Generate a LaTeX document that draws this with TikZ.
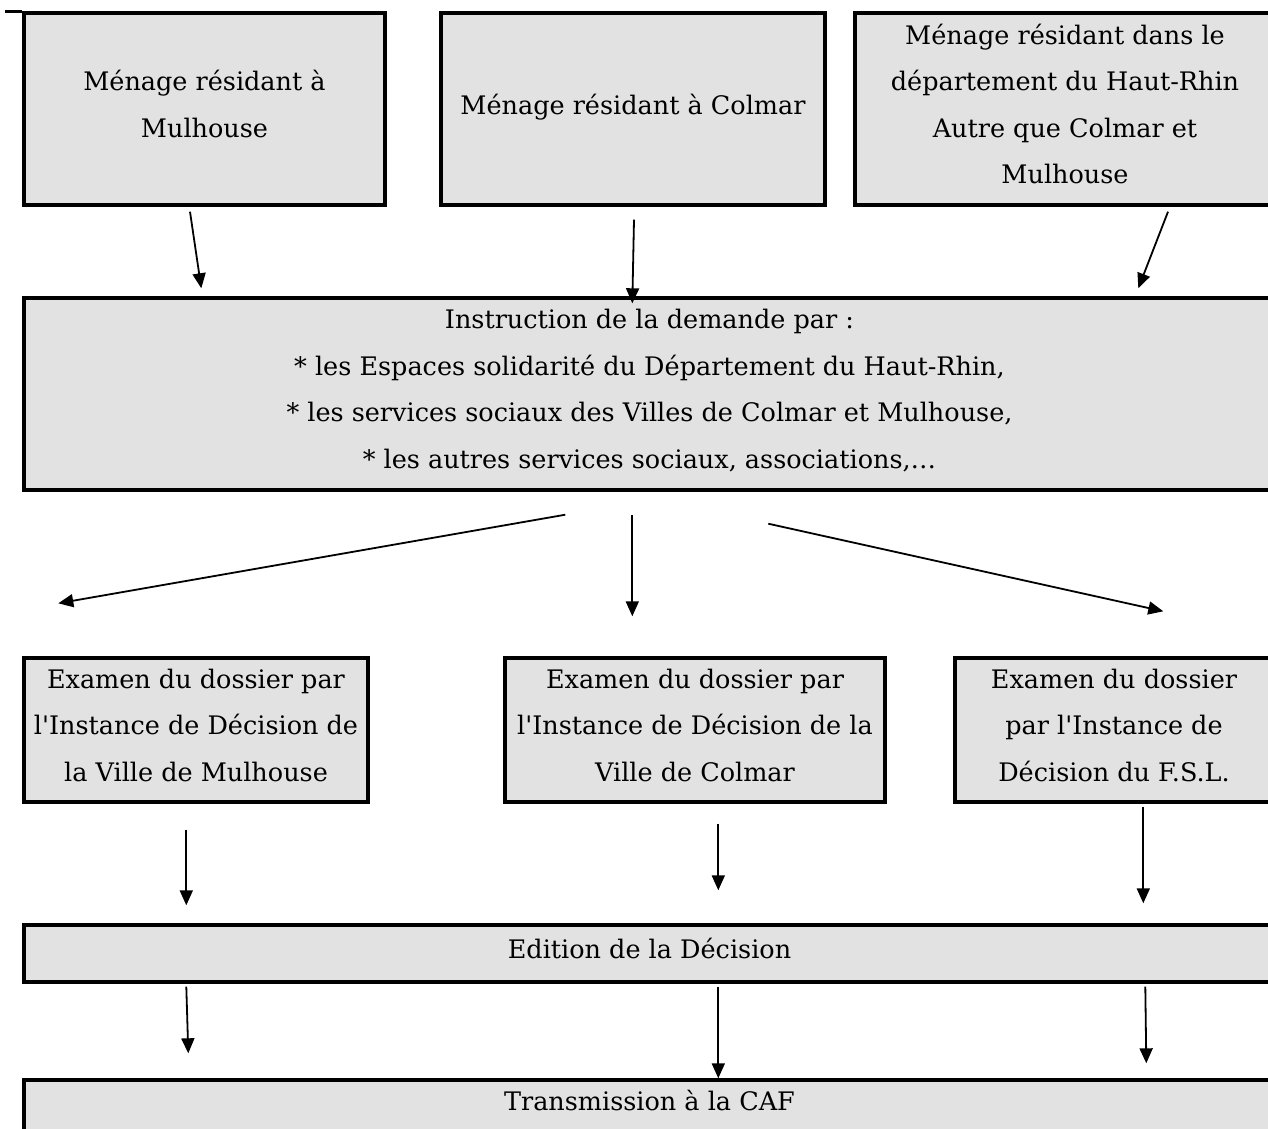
\documentclass[tikz,border=0pt]{standalone}
\usepackage{fontspec}
\setmainfont{DejaVu Serif}[Ligatures=TeXOff]
\usetikzlibrary{arrows.meta,calc}
\definecolor{boxfill}{RGB}{226,226,226}
\begin{document}
\begin{tikzpicture}[x=1pt,y=-1pt,
  box/.style={draw=black,line width=3.4pt,fill=boxfill,rectangle,inner sep=0pt,
    align=center,text depth=10pt,font=\fontsize{25.5pt}{46.5pt}\selectfont},
  arr/.style={line width=1.8pt,-{Triangle[length=15pt,width=13pt]}}]
\useasboundingbox (0,0) rectangle (1268,1128);
\clip (0,0) rectangle (1268,1128);
\fill[white] (0,0) rectangle (1268,1128);
% top row
\node[box,minimum width=361pt,minimum height=192pt] (A) at (204.5,109) {Ménage résidant à\\Mulhouse};
\node[box,minimum width=384pt,minimum height=192pt] (B) at (633,109) {Ménage résidant à Colmar};
\node[box,minimum width=420pt,minimum height=192pt] (C) at (1065,109) {Ménage résidant dans le\\département du Haut-Rhin\\Autre que Colmar et\\Mulhouse};
\draw[line width=3.4pt] (A.north west) -- ++(-17,0);
% instruction
\node[box,minimum width=1251pt,minimum height=192pt] (D) at (649.5,394) {Instruction de la demande par :\\* les Espaces solidarité du Département du Haut-Rhin,\\* les services sociaux des Villes de Colmar et Mulhouse,\\* les autres services sociaux, associations,…};
% examen row
\node[box,minimum width=344pt,minimum height=144pt] (E) at (196,730) {Examen du dossier par\\l'Instance de Décision de\\la Ville de Mulhouse};
\node[box,minimum width=380pt,minimum height=144pt] (F) at (695,730) {Examen du dossier par\\l'Instance de Décision de la\\Ville de Colmar};
\node[box,minimum width=318pt,minimum height=144pt] (G) at (1114,730) {Examen du dossier\\par l'Instance de\\Décision du F.S.L.};
% edition
\node[box,minimum width=1251pt,minimum height=57pt] (H) at (649.5,953.5) {Edition de la Décision};
% transmission
\node[box,minimum width=1251pt,minimum height=100pt] (I) at (649.5,1130) {};
\node[font=\fontsize{25.5pt}{46.5pt}\selectfont] (It) at (649.5,1100) {Transmission à la CAF};
% arrows top -> D
\draw[arr] ([xshift=-14.5pt,yshift=-5pt]A.south) -- ([xshift=179pt,yshift=8pt]D.north west);
\draw[arr] ([xshift=1pt,yshift=-13pt]B.south) -- ([xshift=610pt,yshift=-7pt]D.north west);
\draw[arr] ([xshift=103pt,yshift=-5pt]C.south) -- ([xshift=1116pt,yshift=8pt]D.north west);
% D -> examen
\draw[arr] ([xshift=543pt,yshift=-23pt]D.south west) -- ([xshift=36pt,yshift=53pt]E.north west);
\draw[arr] ([xshift=610pt,yshift=-23pt]D.south west) -- ([xshift=129pt,yshift=40pt]F.north west);
\draw[arr] ([xshift=746pt,yshift=-32pt]D.south west) -- ([xshift=210pt,yshift=45pt]G.north west);
% examen -> H
\draw[arr] ([xshift=164pt,yshift=-26pt]E.south west) -- ([xshift=164pt,yshift=18pt]H.north west);
\draw[arr] ([xshift=215pt,yshift=-20pt]F.south west) -- ([xshift=696pt,yshift=33pt]H.north west);
\draw[arr] ([xshift=190pt,yshift=-3pt]G.south west) -- ([xshift=1121pt,yshift=20pt]H.north west);
% H -> I
\draw[arr] ([xshift=164pt,yshift=-3pt]H.south west) -- ([xshift=166pt,yshift=25pt]I.north west);
\draw[arr] ([xshift=696pt,yshift=-3pt]H.south west) -- ([xshift=696pt,yshift=0pt]I.north west);
\draw[arr] ([xshift=1123pt,yshift=-3pt]H.south west) -- ([xshift=1124pt,yshift=15pt]I.north west);
\end{tikzpicture}
\end{document}
